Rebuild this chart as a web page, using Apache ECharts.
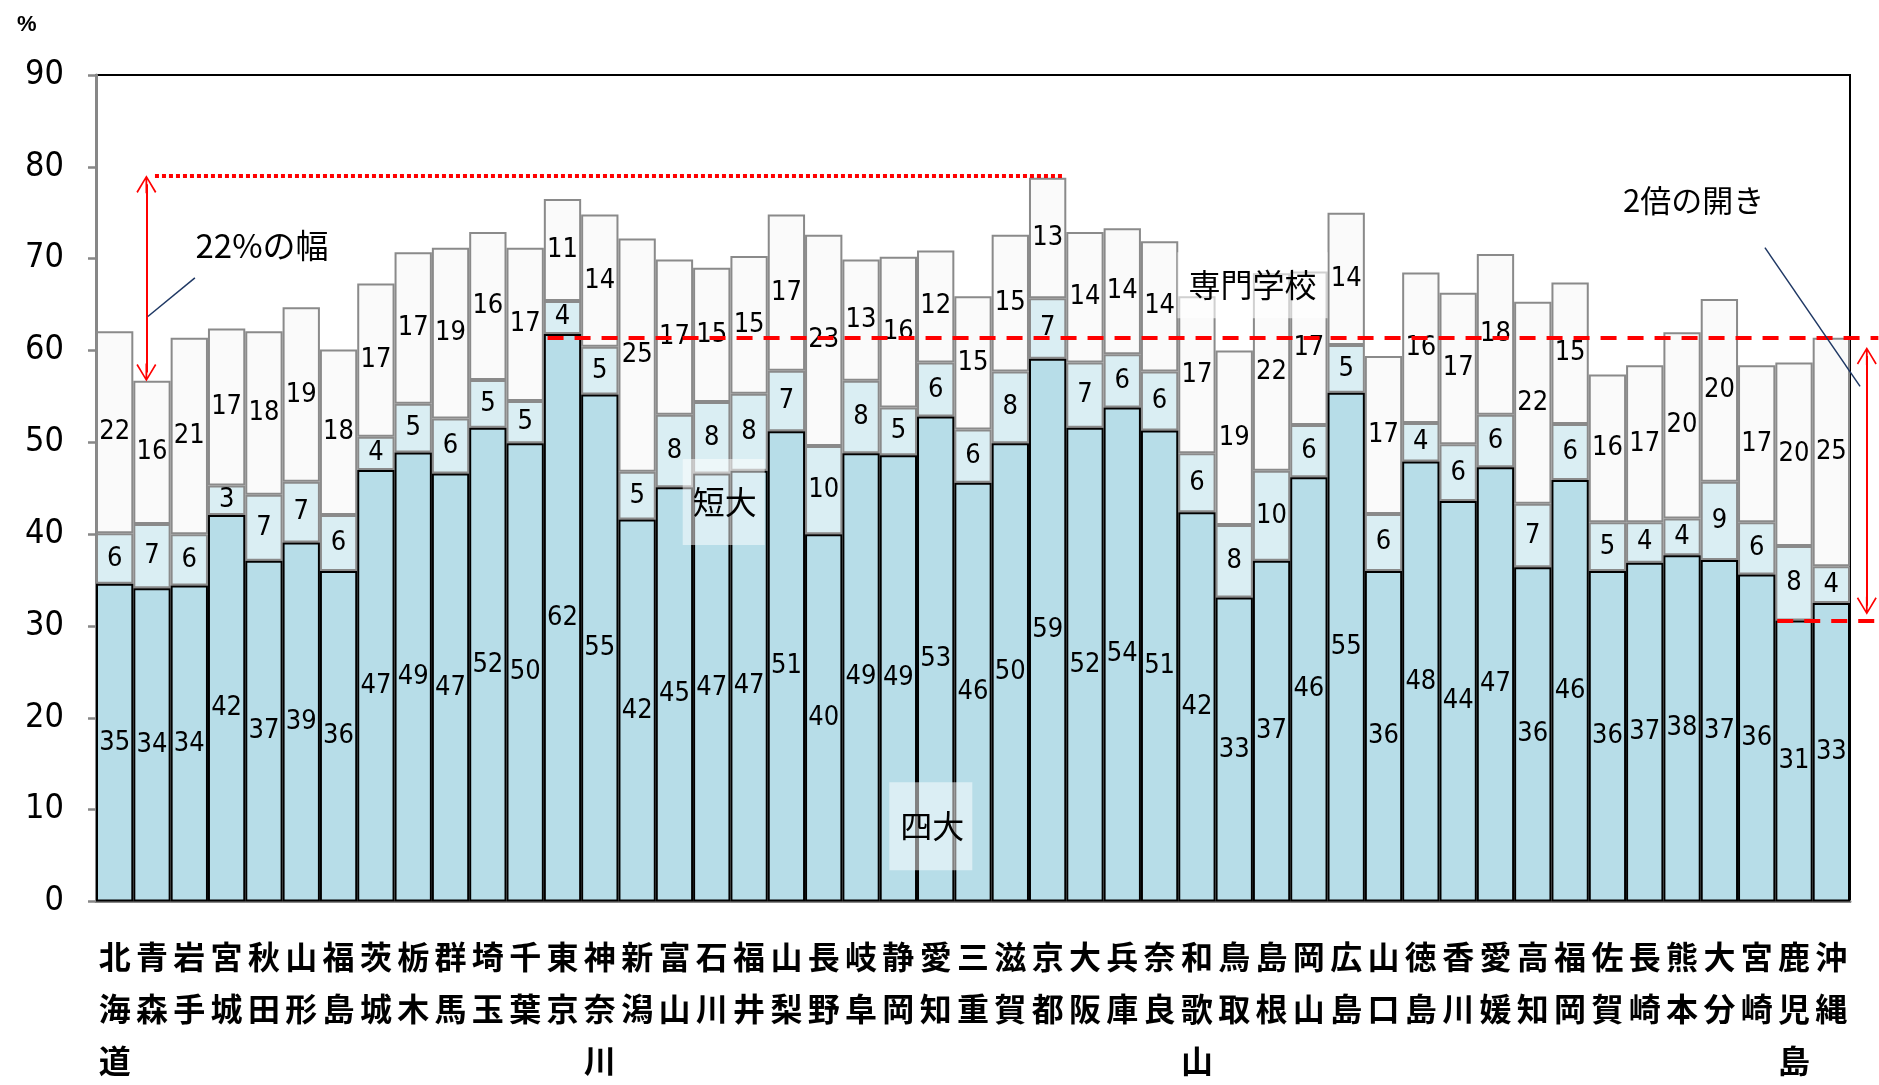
<!DOCTYPE html>
<html><head><meta charset="utf-8">
<script src="https://cdn.jsdelivr.net/npm/echarts@6/dist/echarts.min.js"></script>
<style>html,body{margin:0;padding:0;background:#fff}#c{width:1879px;height:1085px}</style>
</head><body><div id="c"></div>
<script>
// ---- data ----
const prefectures = ['北海道','青森','岩手','宮城','秋田','山形','福島','茨城','栃木','群馬','埼玉','千葉','東京','神奈川','新潟','富山','石川','福井','山梨','長野','岐阜','静岡','愛知','三重','滋賀','京都','大阪','兵庫','奈良','和歌山','鳥取','島根','岡山','広島','山口','徳島','香川','愛媛','高知','福岡','佐賀','長崎','熊本','大分','宮崎','鹿児島','沖縄'];
const univ = [34.6,34.1,34.4,42.1,37.1,39.1,36.0,47.0,48.9,46.6,51.6,49.9,61.8,55.2,41.6,45.1,46.6,46.9,51.2,40.0,48.8,48.6,52.8,45.6,49.9,59.1,51.6,53.8,51.3,42.4,33.1,37.1,46.2,55.4,36.0,47.9,43.6,47.3,36.4,45.9,36.0,36.9,37.7,37.2,35.6,30.6,32.5];
const junior = [5.5,7.0,5.6,3.2,7.2,6.6,6.1,3.6,5.3,6.0,5.2,4.6,3.6,5.2,5.2,7.9,7.8,8.4,6.6,9.6,7.9,5.2,5.9,5.8,7.8,6.6,7.1,5.8,6.4,6.4,7.9,9.8,5.7,5.2,6.2,4.2,6.2,5.7,6.9,6.1,5.3,4.4,4.0,8.5,5.7,8.1,4.0];
const vocational = [22.0,15.6,21.4,17.1,17.8,19.0,18.0,16.7,16.5,18.6,16.1,16.7,11.1,14.4,25.4,16.9,14.6,15.0,17.0,23.0,13.2,16.4,12.2,14.5,14.9,13.1,14.2,13.7,14.2,17.1,19.0,21.5,16.7,14.4,17.2,16.4,16.5,17.5,22.0,15.4,16.1,17.1,20.3,19.9,17.1,20.0,24.9];
const seriesNames = ['四大','短大','専門学校'];
const yMin = 0, yMax = 90, yStep = 10;

// annotations, in data units (x = category index position, y = %)
const dottedSpan = [[1.08,79.0],[25.43,79.0]];
const tokyoDashed = [[11.6,61.4],[47.26,61.4]];
const kagoshimaDashed = [[44.55,30.55],[47.26,30.55]];
const leftArrow = [[0.85,78.1],[0.85,57.6]];
const rightArrow = [[46.95,59.4],[46.95,32.2]];
const leftLeader = [[2.15,67.9],[0.89,63.7]];
const rightLeader = [[44.22,71.2],[46.77,56.1]];
const noteText = ['22%の幅','2倍の開き','専門学校','短大','四大'];
const notePos = [[3.95,71.4],[42.31,76.4],[30.49,67.1],[16.32,43.5],[21.87,8.2]];

// ---- layout ----
const W = 1879, gLeft = 96, gRight = 29, gTop = 75, gBottom = 183.5;
const catW = (W - gLeft - gRight) / prefectures.length;
const annoMax = prefectures.length - 0.5 + gRight / catW; // annotation layer reaches the right edge of the page

// ---- chart ----
const narrow = "'Liberation Sans Narrow','DejaVu Sans Condensed',sans-serif";
const jp = "'Noto Sans CJK JP',sans-serif";
const chart = echarts.init(document.getElementById('c'));
const labelFmt = p => Math.round(p.value);
function barSeries(name, data, color, border, z) {
  return {
    name, type: 'bar', stack: 'total', data, barCategoryGap: '0%', z,
    xAxisIndex: 0, yAxisIndex: 0,
    itemStyle: { color, borderColor: border, borderWidth: 2 },
    label: { show: true, position: 'inside', formatter: labelFmt, fontFamily: narrow, fontSize: 27, color: '#000' },
    emphasis: { disabled: true }, silent: true
  };
}
const chevron = 'path://M10,0 L20,16.5 L18.6,17.6 L10.9,4.5 L10.9,18 L9.1,18 L9.1,4.5 L1.4,17.6 L0,16.5 Z';
const red = '#ff0000', navy = '#1f3864';
function seg(pts, style, sym) {
  const s = sym ? { symbol: chevron, symbolSize: [20, 18] } : { symbol: 'none' };
  return [Object.assign({ coord: pts[0], lineStyle: style }, s), Object.assign({ coord: pts[1], lineStyle: style }, s)];
}
const boxStyles = [
  {},
  {},
  { backgroundColor: 'rgba(255,255,255,0.6)', padding: [9, 11, 25, 11] },
  { backgroundColor: 'rgba(255,255,255,0.5)', padding: [29, 8, 25, 10] },
  { backgroundColor: 'rgba(255,255,255,0.5)', padding: [34, 8, 22, 11] }
];
const noteSizes = [33, 31, 32, 32, 32];

chart.setOption({
  animation: false,
  title: { text: '%', left: 12, top: 9, textStyle: { fontSize: 22, fontWeight: 'bold', fontFamily: 'Liberation Sans', color: '#000' } },
  grid: [
    { left: gLeft, right: gRight, top: gTop, bottom: gBottom, show: true, borderColor: '#000', borderWidth: 2, containLabel: false, outerBoundsMode: 'none' },
    { left: gLeft, right: 0, top: gTop, bottom: gBottom, show: false, containLabel: false, outerBoundsMode: 'none' }
  ],
  xAxis: [
    {
      type: 'category', data: prefectures, gridIndex: 0,
      axisLine: { lineStyle: { color: '#878787', width: 3 } },
      axisTick: { show: false },
      axisLabel: { interval: 0, formatter: v => v.split('').join('\n'), margin: 29, fontSize: 32, lineHeight: 52, fontFamily: jp, fontWeight: 'bold', color: '#000' }
    },
    { type: 'value', min: -0.5, max: annoMax, show: false, gridIndex: 1 }
  ],
  yAxis: [
    {
      type: 'value', min: yMin, max: yMax, interval: yStep, gridIndex: 0,
      axisLine: { show: true, lineStyle: { color: '#878787', width: 3 } },
      axisTick: { show: true, length: 8, lineStyle: { color: '#878787', width: 2.5 } },
      splitLine: { show: false },
      axisLabel: { margin: 32, fontSize: 34, fontFamily: narrow, color: '#000' }
    },
    { type: 'value', min: yMin, max: yMax, show: false, gridIndex: 1 }
  ],
  series: [
    barSeries(seriesNames[0], univ, '#b7dde8', '#000', 3),
    barSeries(seriesNames[1], junior, '#daeef3', '#8a8a8a', 2),
    barSeries(seriesNames[2], vocational, '#fafafa', '#8a8a8a', 2),
    {
      type: 'line', xAxisIndex: 1, yAxisIndex: 1, data: [], clip: false, silent: true, z: 6,
      markLine: {
        silent: true, animation: false, symbol: ['none', 'none'], label: { show: false }, emphasis: { disabled: true },
        data: [
          seg(dottedSpan, { color: red, width: 4, type: [4, 3] }),
          seg(tokyoDashed, { color: red, width: 4, type: [16, 11] }),
          seg(kagoshimaDashed, { color: red, width: 4, type: [16, 11] }),
          seg(leftArrow, { color: red, width: 2, type: 'solid' }, true),
          seg(rightArrow, { color: red, width: 2, type: 'solid' }, true),
          seg(leftLeader, { color: navy, width: 1.5, type: 'solid' }),
          seg(rightLeader, { color: navy, width: 1.5, type: 'solid' })
        ]
      },
      markPoint: {
        silent: true, animation: false, symbol: 'circle', symbolSize: 1, itemStyle: { color: 'rgba(0,0,0,0)' },
        data: noteText.map((t, i) => ({
          coord: notePos[i], value: t,
          label: Object.assign({ show: true, position: 'inside', formatter: t, fontFamily: jp, fontSize: noteSizes[i], color: '#000' }, boxStyles[i])
        }))
      }
    }
  ]
});
</script></body></html>
